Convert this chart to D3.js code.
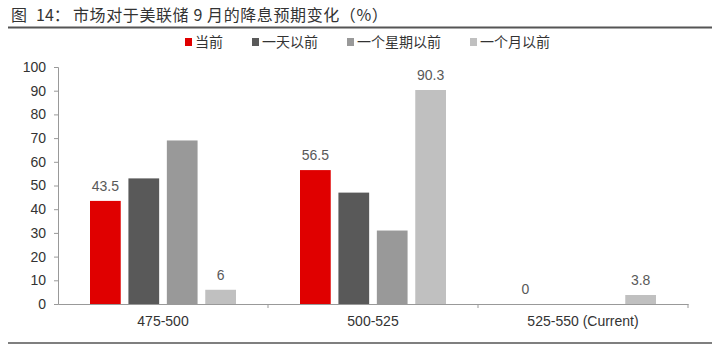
<!DOCTYPE html>
<html>
<head>
<meta charset="utf-8">
<script src="https://d3js.org/d3.v7.min.js"></script>
<style>
  body { margin: 0; background: #fff; }
  svg { display: block; }
</style>
</head>
<body>
<script>
    // Data
    var categories = ["475-500", "500-525", "525-550 (Current)"];
    var seriesNames = ["当前", "一天以前", "一个星期以前", "一个月以前"];
    var seriesColors = ["#e00000", "#595959", "#999999", "#c0c0c0"];
    var now = [43.5, 56.5, 0];
    var dayAgo = [53, 47, 0];
    var weekAgo = [69, 31, 0];
    var monthAgo = [6, 90.3, 3.8];
    var yTicks = [0, 10, 20, 30, 40, 50, 60, 70, 80, 90, 100];
    var labelledSeries = [0, 3];

    var series = [now, dayAgo, weekAgo, monthAgo];

    var W = 719, H = 348;
    var margin = {top: 67, left: 58, right: 31, bottom: 44};
    var width = W - margin.left - margin.right,
        height = H - margin.top - margin.bottom;

    var svg = d3.select("body").append("svg")
        .attr("width", W)
        .attr("height", H)
        .style("font-family", "'Liberation Sans', Arial, sans-serif");

    // Title and rules
    var title = svg.append("text")
        .attr("y", 21)
        .style("font-family", "'Noto Sans CJK SC', sans-serif")
        .style("font-size", "16px")
        .attr("fill", "#333");
    title.append("tspan").attr("x", 11).text("图");
    title.append("tspan").attr("x", 36).text("14：");
    title.append("tspan").attr("x", 73).style("letter-spacing", "0.6px")
        .text("市场对于美联储 9 月的降息预期变化（%）");

    svg.append("line")
        .attr("x1", 8).attr("x2", 712)
        .attr("y1", 27.5).attr("y2", 27.5)
        .attr("stroke", "#555").attr("stroke-width", 2);

    svg.append("line")
        .attr("x1", 8).attr("x2", 712)
        .attr("y1", 343).attr("y2", 343)
        .attr("stroke", "#555").attr("stroke-width", 1.5);

    // Scales
    var x0 = d3.scaleBand().domain(categories).range([0, width]).paddingInner(0).paddingOuter(0);
    var x1 = d3.scaleBand().domain(d3.range(series.length))
        .range([32, x0.bandwidth() - 32]).paddingInner(0.2);
    var y = d3.scaleLinear().domain([0, 100]).range([height, 0]);

    var g = svg.append("g")
        .attr("transform", "translate(" + margin.left + "," + margin.top + ")");

    // Bars
    series.forEach(function(vals, si) {
        g.selectAll(".bar" + si)
            .data(vals)
            .enter()
            .append("rect")
            .attr("x", function(d, i) { return x0(categories[i]) + x1(si); })
            .attr("y", function(d) { return y(d); })
            .attr("width", x1.bandwidth())
            .attr("height", function(d) { return height - y(d); })
            .attr("fill", seriesColors[si]);
    });

    // Value labels
    labelledSeries.forEach(function(si) {
        g.selectAll(".lab" + si)
            .data(series[si])
            .enter()
            .append("text")
            .attr("x", function(d, i) { return x0(categories[i]) + x1(si) + x1.bandwidth() / 2; })
            .attr("y", function(d) { return y(d) - 10; })
            .attr("text-anchor", "middle")
            .style("font-size", "14px")
            .attr("fill", "#595959")
            .text(function(d) { return d; });
    });

    // Y axis
    var yAxis = g.append("g")
        .call(d3.axisLeft(y).tickValues(yTicks).tickSize(4).tickPadding(8));
    yAxis.selectAll("text").style("font-size", "14px").attr("fill", "#333");
    yAxis.select(".domain").attr("stroke", "#999");
    yAxis.selectAll(".tick line").attr("stroke", "#999");

    // X axis
    var xAxis = g.append("g")
        .attr("transform", "translate(0," + height + ")")
        .call(d3.axisBottom(x0).tickSize(0).tickPadding(12));
    xAxis.select(".domain").attr("stroke", "#999");
    xAxis.selectAll("text").style("font-size", "14px").attr("fill", "#333");
    xAxis.selectAll(".sep")
        .data(categories.slice(1).concat(["end"]))
        .enter()
        .append("line")
        .attr("x1", function(d, i) { return x0.step() * (i + 1); })
        .attr("x2", function(d, i) { return x0.step() * (i + 1); })
        .attr("y1", 0).attr("y2", 4)
        .attr("stroke", "#999");

    // Legend
    var legendX = [185, 252, 347, 470];
    var legend = svg.append("g")
        .style("font-family", "'Noto Sans CJK SC', sans-serif");
    seriesNames.forEach(function(name, i) {
        legend.append("rect")
            .attr("x", legendX[i]).attr("y", 38)
            .attr("width", 7).attr("height", 8)
            .attr("fill", seriesColors[i]);
        legend.append("text")
            .attr("x", legendX[i] + 10).attr("y", 47)
            .style("font-size", "14px")
            .attr("fill", "#333")
            .text(name);
    });
</script>
</body>
</html>
